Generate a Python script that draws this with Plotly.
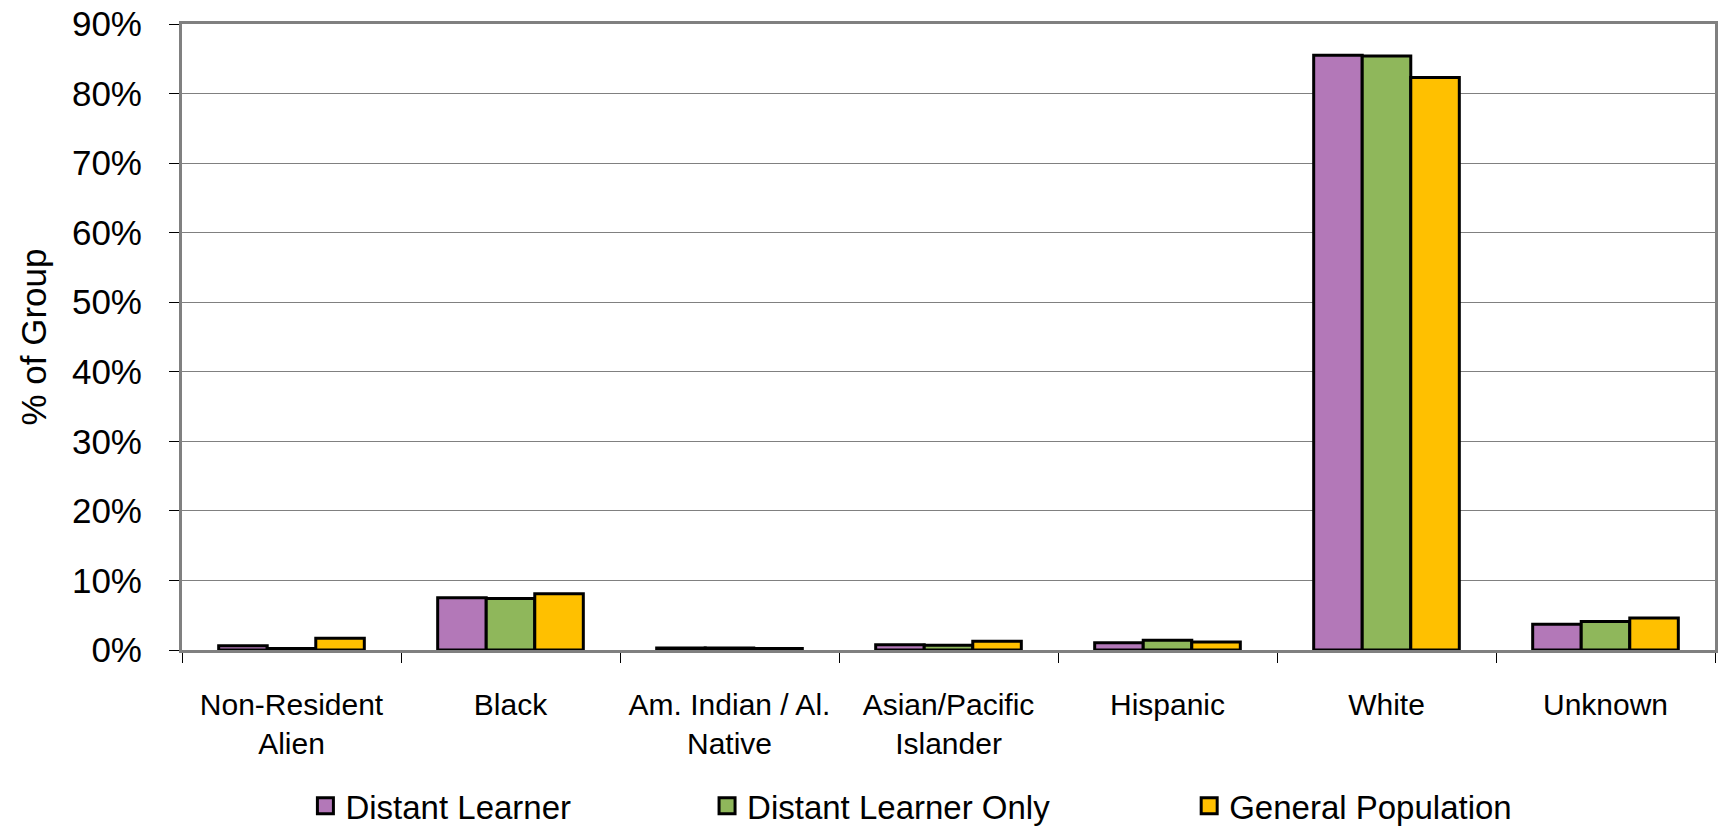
import plotly.graph_objects as go

categories = ["Non-Resident<br>Alien", "Black", "Am. Indian / Al.<br>Native",
              "Asian/Pacific<br>Islander", "Hispanic", "White", "Unknown"]
distant_learner = [0.006, 0.075, 0.003, 0.0075, 0.0105, 0.855, 0.037]
distant_learner_only = [0.002, 0.074, 0.003, 0.007, 0.014, 0.854, 0.041]
general_population = [0.017, 0.081, 0.002, 0.0125, 0.0115, 0.823, 0.046]

series_names = ["Distant Learner", "Distant Learner Only", "General Population"]
series_values = [distant_learner, distant_learner_only, general_population]
colors = ["#B378B8", "#8FB75B", "#FFC000"]

FONT = "Liberation Sans, Arial, sans-serif"

fig = go.Figure()
for name, vals, col in zip(series_names, series_values, colors):
    fig.add_trace(go.Bar(
        x=categories, y=vals, name=name, showlegend=False,
        marker=dict(color=col, line=dict(color="black", width=3)),
    ))

legend_ids = ["legend", "legend2", "legend3"]
legend_x = [0.0805, 0.3425, 0.657]
for name, col, lid in zip(series_names, colors, legend_ids):
    fig.add_trace(go.Scatter(
        x=[None], y=[None], mode="markers", name=name, legend=lid,
        marker=dict(symbol="square", size=16, color=col,
                    line=dict(color="black", width=3)),
    ))

legend_common = dict(orientation="h", yanchor="middle", y=-0.249, xanchor="left",
                     font=dict(family=FONT, size=33, color="black"),
                     bgcolor="rgba(0,0,0,0)", itemwidth=30, tracegroupgap=0)

fig.update_layout(
    width=1719, height=827,
    margin=dict(l=182, r=4, t=24, b=177, autoexpand=False),
    paper_bgcolor="white", plot_bgcolor="white",
    barmode="group", bargap=0.335, bargroupgap=0,
    font=dict(family=FONT, size=30, color="black"),
    legend=dict(x=legend_x[0], **legend_common),
    legend2=dict(x=legend_x[1], **legend_common),
    legend3=dict(x=legend_x[2], **legend_common),
    xaxis=dict(
        type="category", showgrid=False,
        showline=True, linecolor="#808080", linewidth=3, mirror=True,
        ticks="outside", tickson="boundaries", ticklen=10, tickcolor="black", tickwidth=1,
        ticklabelstandoff=26,
        tickfont=dict(family=FONT, size=30, color="black"),
    ),
    yaxis=dict(
        range=[0, 0.9], dtick=0.1, tickformat=".0%",
        showgrid=True, gridcolor="#808080", gridwidth=1,
        showline=True, linecolor="#808080", linewidth=3, mirror=True,
        zeroline=False,
        ticks="outside", ticklen=10, tickcolor="black", tickwidth=1,
        ticklabelstandoff=20,
        tickfont=dict(family=FONT, size=35, color="black"),
        title=dict(text="% of Group", standoff=15,
                   font=dict(family=FONT, size=35, color="black")),
        automargin=False,
    ),
)

fig.write_html("out.html",
               config={"displayModeBar": False},
               post_script="document.body.style.margin='0px';document.body.style.overflow='hidden';")
